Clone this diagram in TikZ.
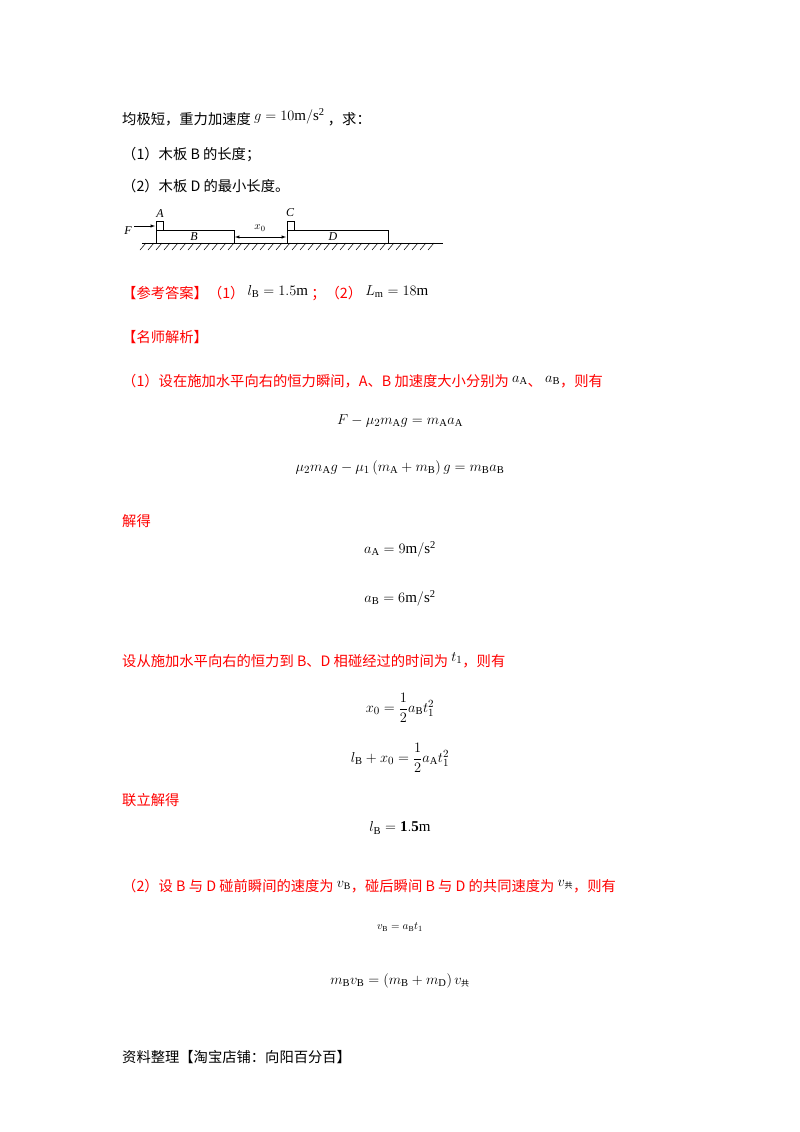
\documentclass[tikz,border=0pt]{standalone}
\usepackage{amsmath}
\usepackage{fontspec}
\setmainfont{Liberation Serif}
\newfontfamily\cjk{Noto Sans CJK SC}
\definecolor{rd}{RGB}{255,0,0}
\newcommand{\bk}[1]{\textcolor{black}{#1}}
\newcommand{\gong}{\text{\cjk\fontsize{8}{9}\selectfont 共}}
\begin{document}
\begin{tikzpicture}[x=1pt,y=-1pt,
  txt/.style={anchor=west,inner sep=0,font=\cjk\fontsize{14.3}{17}\selectfont},
  red/.style={txt,text=rd},
  eq/.style={anchor=center,inner sep=0,font=\fontsize{15}{18}\selectfont},
  lbl/.style={inner sep=0,font=\itshape\fontsize{12}{14}\selectfont}]
\useasboundingbox[fill=white] (0,0) rectangle (800,1132);
\node[txt] (t1) at (122,117) {均极短，重力加速度 \raisebox{4pt}{\fontsize{15}{18}\selectfont$g=10\mathrm{m/s^2}$} ，求：};
\node[txt] (t2) at (122,155) {（1）木板 B 的长度；};
\node[txt] (t3) at (122,186) {（2）木板 D 的最小长度。};
% diagram
\draw[line width=0.7pt] (142,243) -- (443,243);
\foreach \x in {146,154,...,440} \draw[line width=0.5pt] (\x,243) -- (\x-6,250);
\draw[line width=0.6pt] (156,230) rectangle (234,243);
\draw[line width=0.6pt] (156,221) rectangle (163,230);
\draw[line width=0.6pt] (287,230) rectangle (388,243);
\draw[line width=0.6pt] (287,221) rectangle (294,230);
\coordinate (fa) at (134,226); \coordinate (fb) at (155,226);
\draw[-latex,line width=0.5pt] (fa) -- (fb);
\node[lbl] (F) at (128,231) {F};
\node[lbl] (A) at (160,214) {A};
\node[lbl] (B) at (194,237) {B};
\node[lbl] (C) at (290,213) {C};
\node[lbl] (D) at (333,237) {D};
\coordinate (xa) at (235,237); \coordinate (xb) at (286,237);
\draw[latex-latex,line width=0.5pt] (xa) -- (xb);
\node[inner sep=0,font=\fontsize{11}{13}\selectfont] (x0) at (260,228) {$x_0$};
% answers
\node[red] (ans) at (122,293) {【参考答案】（1） \bk{\raisebox{3pt}{\fontsize{15}{18}\selectfont$l_{\mathrm B}=1.5\mathrm{m}$}} ；（2） \bk{\raisebox{3pt}{\fontsize{15}{18}\selectfont$L_{\mathrm m}=18\mathrm{m}$}}};
\node[red] (jx) at (122,337) {【名师解析】};
\node[red] (p1) at (122,381) {（1）设在施加水平向右的恒力瞬间，A、B 加速度大小分别为 \bk{\raisebox{4pt}{\fontsize{15}{18}\selectfont$a_{\mathrm A}$}}、 \bk{\raisebox{4pt}{\fontsize{15}{18}\selectfont$a_{\mathrm B}$}}，则有};
\node[eq] (e1) at (400,421) {$F-\mu_2 m_{\mathrm A}g=m_{\mathrm A}a_{\mathrm A}$};
\node[eq] (e2) at (400,468) {$\mu_2 m_{\mathrm A}g-\mu_1\left(m_{\mathrm A}+m_{\mathrm B}\right)g=m_{\mathrm B}a_{\mathrm B}$};
\node[red] (jd) at (122,521) {解得};
\node[eq] (e3) at (400,549) {$a_{\mathrm A}=9\mathrm{m/s^2}$};
\node[eq] (e4) at (400,598) {$a_{\mathrm B}=6\mathrm{m/s^2}$};
\node[red] (p2) at (122,660) {设从施加水平向右的恒力到 B、D 相碰经过的时间为 \bk{\raisebox{5pt}{\fontsize{15}{18}\selectfont$t_1$}}，则有};
\node[eq] (e5) at (400,708) {$x_0=\dfrac{1}{2}a_{\mathrm B}t_1^2$};
\node[eq] (e6) at (400,758) {$l_{\mathrm B}+x_0=\dfrac{1}{2}a_{\mathrm A}t_1^2$};
\node[red] (lj) at (122,800) {联立解得};
\node[eq] (e7) at (400,828) {$l_{\mathrm B}=\mathbf{1.5}\mathrm{m}$};
\node[red] (p3) at (122,886) {（2）设 B 与 D 碰前瞬间的速度为 \bk{\raisebox{4pt}{\fontsize{14}{17}\selectfont$v_{\mathrm B}$}}，碰后瞬间 B 与 D 的共同速度为 \bk{\raisebox{5pt}{\fontsize{14}{17}\selectfont$v_{\gong}$}}，则有};
\node[eq,font=\fontsize{11}{13}\selectfont] (e8) at (400,927) {$v_{\mathrm B}=a_{\mathrm B}t_1$};
\node[eq] (e9) at (400,981) {$m_{\mathrm B}v_{\mathrm B}=\left(m_{\mathrm B}+m_{\mathrm D}\right)v_{\gong}$};
\node[txt] (ft) at (122,1057) {资料整理【淘宝店铺：向阳百分百】};
\end{tikzpicture}
\end{document}
